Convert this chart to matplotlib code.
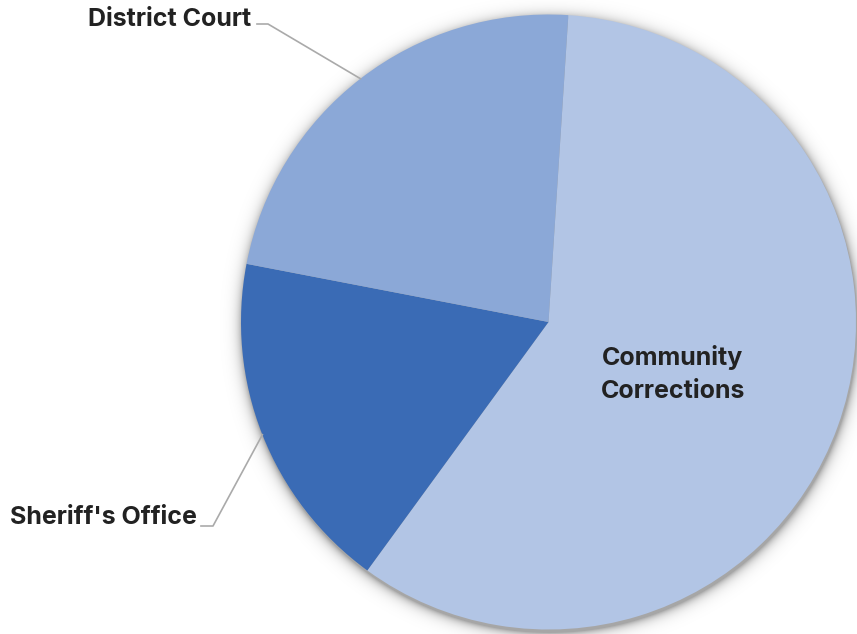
import numpy as np
import matplotlib
matplotlib.use("Agg")
import matplotlib.pyplot as plt

plt.rcParams['font.family'] = ['Inter', 'DejaVu Sans']

# data
labels = ["Community Corrections", "Sheriff's Office", "District Court"]
values = [59, 18, 23]
colors = ["#B2C5E5", "#3A6BB5", "#8BA8D7"]

W, H = 857, 634
fig = plt.figure(figsize=(W / 100, H / 100), dpi=100)
ax = fig.add_axes([0, 0, 1, 1])

cx, cy, r = 548.5, 322.0, 307.5
start = 86.3

# soft shadow around the pie
yy, xx = np.mgrid[0:H, 0:W] + 0.5
d = np.hypot(xx - cx - 1, yy - cy - 3) - r
alpha = np.where(d > 0, 0.35 * np.exp(-d / 5.0), 0.35)
shadow = np.zeros((H, W, 4))
shadow[..., 3] = alpha
ax.imshow(shadow, extent=(0, W, H, 0), zorder=0, interpolation="bilinear")

# y axis inverted, so flip the pie direction to keep it clockwise on screen
wedges, _ = ax.pie(values, colors=colors, startangle=-start, counterclock=True,
                   center=(cx, cy), radius=r, frame=True,
                   wedgeprops=dict(linewidth=0))
ax.set_xlim(0, W)
ax.set_ylim(H, 0)
ax.set_aspect("equal")
ax.axis("off")

fs = 18
# labels
for w, lab in zip(wedges, labels):
    mid = np.deg2rad((w.theta1 + w.theta2) / 2)
    px, py = cx + r * np.cos(mid), cy + r * np.sin(mid)
    if lab == "Community Corrections":
        ax.text(673, 374, "Community\nCorrections", ha="center", va="center",
                fontsize=fs, fontweight="bold", color="#222222", linespacing=1.5)
    elif lab == "District Court":
        ax.plot([px, 268, 257], [py, 24, 24], color="#aaaaaa", lw=1.2, zorder=1)
        ax.text(251, 26, lab, ha="right", va="baseline",
                fontsize=fs, fontweight="bold", color="#222222")
    else:
        ax.plot([px, 213, 201], [py, 526, 526], color="#aaaaaa", lw=1.2, zorder=1)
        ax.text(197, 524, lab, ha="right", va="baseline",
                fontsize=fs, fontweight="bold", color="#222222")

fig.savefig("out.png", dpi=100)
